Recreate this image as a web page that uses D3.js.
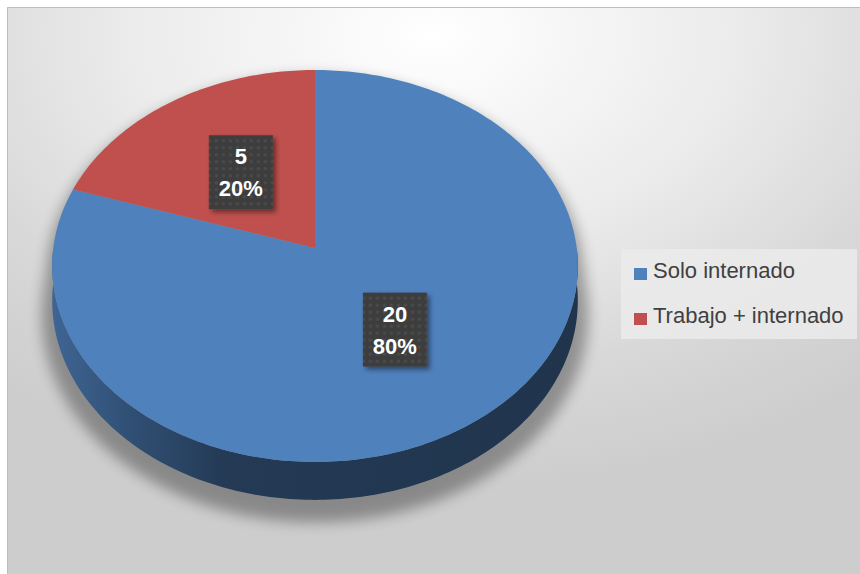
<!DOCTYPE html>
<html>
<head>
<meta charset="utf-8">
<script src="https://cdn.jsdelivr.net/npm/d3@7"></script>
<style>
  body { margin: 0; background: #fff; }
  svg { display: block; }
</style>
</head>
<body>
<script>
// chart data
var categories = ["Solo internado", "Trabajo + internado"];
var values = [20, 5];
var colors = ["#4f81bd", "#c0504d"];

var W = 860, H = 574;

// projected pie geometry (tilted disc with a little perspective)
var cx = 315, cy = 248,
    Ax = 261.7, Ay = 194.3,
    persp = 0.0917,
    thick = 34.5;

function proj(a, r, h) {
  var X = r * Math.sin(a), Z = -r * Math.cos(a);
  var w = 1 - persp * Z;
  return [cx + Ax * X / w, cy + (Ay * Z + thick * h) / w];
}

var svg = d3.select("body").append("svg")
    .attr("width", W)
    .attr("height", H);

var defs = svg.append("defs");

// chart area background
var bg = defs.append("radialGradient")
    .attr("id", "bg")
    .attr("cx", 0.5).attr("cy", 0.05).attr("r", 0.8)
    .attr("fx", 0.5).attr("fy", 0.05);
bg.append("stop").attr("offset", 0).attr("stop-color", "#ffffff");
bg.append("stop").attr("offset", 0.45).attr("stop-color", "#ebebeb");
bg.append("stop").attr("offset", 0.75).attr("stop-color", "#d8d8d8");
bg.append("stop").attr("offset", 1).attr("stop-color", "#cdcdcd");

svg.append("rect")
    .attr("x", 7).attr("y", 7)
    .attr("width", W - 7).attr("height", H - 7)
    .attr("fill", "url(#bg)");
svg.append("path")
    .attr("d", "M7.5," + H + "V7.5H" + W)
    .attr("fill", "none")
    .attr("stroke", "#bdbdbd");

// shadow under the pie
defs.append("filter").attr("id", "blur")
    .attr("x", -0.2).attr("y", -0.2).attr("width", 1.4).attr("height", 1.4)
  .append("feGaussianBlur").attr("stdDeviation", 7);

// dotted label pattern
var pat = defs.append("pattern")
    .attr("id", "dots")
    .attr("patternUnits", "userSpaceOnUse")
    .attr("width", 7).attr("height", 7);
pat.append("rect").attr("width", 7).attr("height", 7).attr("fill", "#3e3e3e");
pat.append("circle").attr("cx", 3.5).attr("cy", 3.5).attr("r", 1.6).attr("fill", "#4b4b4b");

var ds = defs.append("filter").attr("id", "lblshadow")
    .attr("x", -0.3).attr("y", -0.3).attr("width", 1.6).attr("height", 1.6);
ds.append("feDropShadow")
    .attr("dx", 3).attr("dy", 3)
    .attr("stdDeviation", 2.5)
    .attr("flood-color", "#000")
    .attr("flood-opacity", 0.45);

var pie = d3.pie().sort(null).value(function(d) { return d; });
var arcs = pie(values);
var total = d3.sum(values);
var step = Math.PI / 180;

function arcPoints(a0, a1, r, h) {
  var n = Math.max(2, Math.ceil((a1 - a0) / step));
  return d3.range(n + 1).map(function(i) { return proj(a0 + (a1 - a0) * i / n, r, h); });
}

var line = d3.line();

// silhouette shadow
svg.append("path")
    .attr("d", line(arcPoints(Math.PI / 2, 3 * Math.PI / 2, 1.04, 1.1).concat(arcPoints(-Math.PI / 2, Math.PI / 2, 1.02, 0))) + "Z")
    .attr("transform", "translate(0,9)")
    .attr("fill", "#000")
    .attr("opacity", 0.33)
    .attr("filter", "url(#blur)");

// side walls
var g = svg.append("g");
arcs.forEach(function(d, i) {
  var a0 = Math.max(d.startAngle, Math.PI / 2),
      a1 = Math.min(d.endAngle, 3 * Math.PI / 2);
  if (a1 <= a0) return;
  var grad = defs.append("linearGradient")
      .attr("id", "side" + i)
      .attr("gradientUnits", "userSpaceOnUse")
      .attr("x1", cx - Ax).attr("x2", cx + Ax)
      .attr("y1", 0).attr("y2", 0);
  [[0, 0.22], [0.14, 0.38], [0.33, 0.55], [1, 0.6]].forEach(function(s) {
    grad.append("stop")
        .attr("offset", s[0])
        .attr("stop-color", d3.interpolateRgb(colors[i], "#000")(s[1]));
  });
  var pts = arcPoints(a0, a1, 1, 0).concat(arcPoints(a0, a1, 1, 1).reverse());
  g.append("path")
      .attr("d", line(pts) + "Z")
      .attr("fill", "url(#side" + i + ")");
});

// top faces
arcs.forEach(function(d, i) {
  var pts = [proj(0, 0, 0)].concat(arcPoints(d.startAngle, d.endAngle, 1, 0));
  g.append("path")
      .attr("d", line(pts) + "Z")
      .attr("fill", colors[i]);
});

// data labels
var fmt = d3.format(".0%");
arcs.forEach(function(d, i) {
  var p = proj((d.startAngle + d.endAngle) / 2, 0.5, 0);
  var lg = svg.append("g").attr("transform", "translate(" + p[0] + "," + p[1] + ")");
  lg.append("rect")
      .attr("x", -32).attr("y", -37)
      .attr("width", 64).attr("height", 74)
      .attr("fill", "url(#dots)")
      .attr("filter", "url(#lblshadow)");
  var t = lg.append("text")
      .attr("text-anchor", "middle")
      .attr("font-family", "Liberation Sans, Arial, sans-serif")
      .attr("font-weight", "bold")
      .attr("font-size", 22)
      .attr("fill", "#fff");
  t.append("tspan").attr("x", 0).attr("y", -8).text(d.data);
  t.append("tspan").attr("x", 0).attr("y", 24).text(fmt(d.data / total));
});

// legend
var legend = svg.append("g");
legend.append("rect")
    .attr("x", 621).attr("y", 249)
    .attr("width", 236).attr("height", 90)
    .attr("fill", "#ebebeb")
    .attr("opacity", 0.85);
categories.forEach(function(c, i) {
  var y = 278 + i * 45;
  legend.append("rect")
      .attr("x", 634).attr("y", y - 10)
      .attr("width", 13).attr("height", 12)
      .attr("fill", colors[i]);
  legend.append("text")
      .attr("x", 653).attr("y", y)
      .attr("font-family", "Liberation Sans, Arial, sans-serif")
      .attr("font-size", 22)
      .attr("fill", "#404040")
      .text(c);
});
</script>
</body>
</html>
